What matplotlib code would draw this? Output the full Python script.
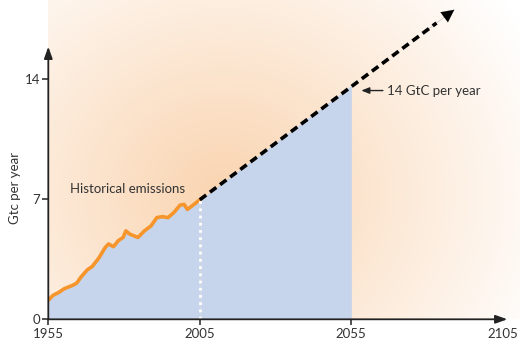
import numpy as np
import matplotlib
matplotlib.use("Agg")
import matplotlib.pyplot as plt

# historical emissions (GtC per year)
hist_years = [1955, 1956.6, 1958.2, 1960.4, 1963.1, 1964.4, 1965.8, 1967.9, 1969.5,
              1971.7, 1973.8, 1974.9, 1976.5, 1978.1, 1979.7, 1980.6, 1981.9, 1984.6,
              1986.7, 1988.9, 1990.8, 1992.6, 1994.5, 1996.4, 1998.5, 1999.8, 2000.9,
              2002.8, 2005]
hist_values = [1.11, 1.40, 1.54, 1.79, 1.98, 2.11, 2.46, 2.88, 3.07,
               3.57, 4.18, 4.38, 4.22, 4.57, 4.76, 5.14, 4.95, 4.76,
               5.14, 5.43, 5.91, 5.97, 5.91, 6.20, 6.64, 6.68, 6.39,
               6.64, 6.95]

# projected path
proj_years = [2005, 2055]
proj_values = [6.95, 13.6]
proj_tip = (2089, 18.0)

x_ticks = [1955, 2005, 2055, 2105]
y_ticks = [0, 7, 14]

BLUE = "#c6d5eb"
ORANGE = "#f5952b"
TEXT = "#333333"
FONT = ["Lato", "DejaVu Sans"]

plt.rcParams["font.family"] = FONT

fig = plt.figure(figsize=(5.2, 3.55), dpi=100)
ax = fig.add_axes([48.3 / 520, (355 - 319.3) / 355, 1 - 48.3 / 520, 319.3 / 355])
x0, x1 = 1955, 1955 + (520 - 48.3) / 3.03
y0, y1 = 0, 319.3 / 17.2
ax.set_xlim(x0, x1)
ax.set_ylim(y0, y1)

# soft orange glow behind everything
w, h = 472, 319
gx, gy = np.meshgrid(np.arange(w), np.arange(h))
cx, cy = 175, 195
d = np.sqrt(((gx - cx) / 1.1) ** 2 + (gy - cy) ** 2) / 320
t = np.clip(1 - d, 0, 1) ** 1.0
peak = np.array([250, 212, 176]) / 255
img = np.ones((h, w, 3)) - t[..., None] * (1 - peak)[None, None, :]
ax.imshow(img, extent=[x0, x1, y0, y1], aspect="auto", zorder=0, interpolation="bilinear")

# blue area under history and projection
ax.fill_between(hist_years, 0, hist_values, color=BLUE, lw=0, zorder=1)
ax.fill_between(proj_years, 0, proj_values, color=BLUE, lw=0, zorder=1)

ax.plot(hist_years, hist_values, color=ORANGE, lw=2.6, solid_capstyle="round", zorder=3)
ax.plot([2005, 2005], [0, hist_values[-1]], color="white", lw=2, ls=(0, (1, 1.6)), zorder=3)

# dashed projection with solid arrowhead
sx, sy = proj_years[0], proj_values[0]
ex, ey = proj_tip
frac = 0.93
ax.plot([sx, sx + (ex - sx) * frac], [sy, sy + (ey - sy) * frac], color="black", lw=2.6,
        ls=(0, (2.2, 1.3)), zorder=4, clip_on=False)
ax.annotate("", xy=(ex, ey), xytext=(sx + (ex - sx) * 0.9, sy + (ey - sy) * 0.9),
            arrowprops=dict(arrowstyle="-|>,head_length=0.9,head_width=0.45",
                            color="black", lw=0.1, shrinkA=0, shrinkB=0), zorder=5)

# axes with arrows
for s in ax.spines.values():
    s.set_visible(False)
ax.annotate("", xy=(1955, 15.85), xytext=(1955, 0),
            arrowprops=dict(arrowstyle="-|>,head_length=0.7,head_width=0.25",
                            color="#222222", lw=1.3, shrinkA=0, shrinkB=0),
            annotation_clip=False, zorder=6)
ax.annotate("", xy=(2106.5, 0), xytext=(1955, 0),
            arrowprops=dict(arrowstyle="-|>,head_length=0.7,head_width=0.25",
                            color="#222222", lw=1.3, shrinkA=0, shrinkB=0),
            annotation_clip=False, zorder=6)

ax.set_xticks(x_ticks)
ax.set_xticklabels([str(v) for v in x_ticks])
ax.set_yticks(y_ticks)
ax.set_yticklabels([str(v) for v in y_ticks])
ax.tick_params(axis="both", length=4, width=1.1, color="#222222", labelcolor=TEXT,
               labelsize=9.5, pad=2)
ax.xaxis.get_major_ticks()[-1].tick1line.set_visible(False)
ax.set_ylabel("Gtc per year", fontsize=9.5, color=TEXT)
ax.yaxis.set_label_coords(-0.057, 0.41)

ax.text(1962.2, 7.56, "Historical emissions", fontsize=9.5, color=TEXT, va="center", ha="left", zorder=6)
ax.annotate("14 GtC per year", xy=(2058.3, 13.3), xytext=(2066.8, 13.3), fontsize=9.5, color=TEXT,
            va="center", ha="left",
            arrowprops=dict(arrowstyle="-|>,head_length=0.5,head_width=0.2",
                            color="#222222", lw=1, shrinkA=1, shrinkB=0), zorder=6)

fig.savefig("out.png", dpi=100)
